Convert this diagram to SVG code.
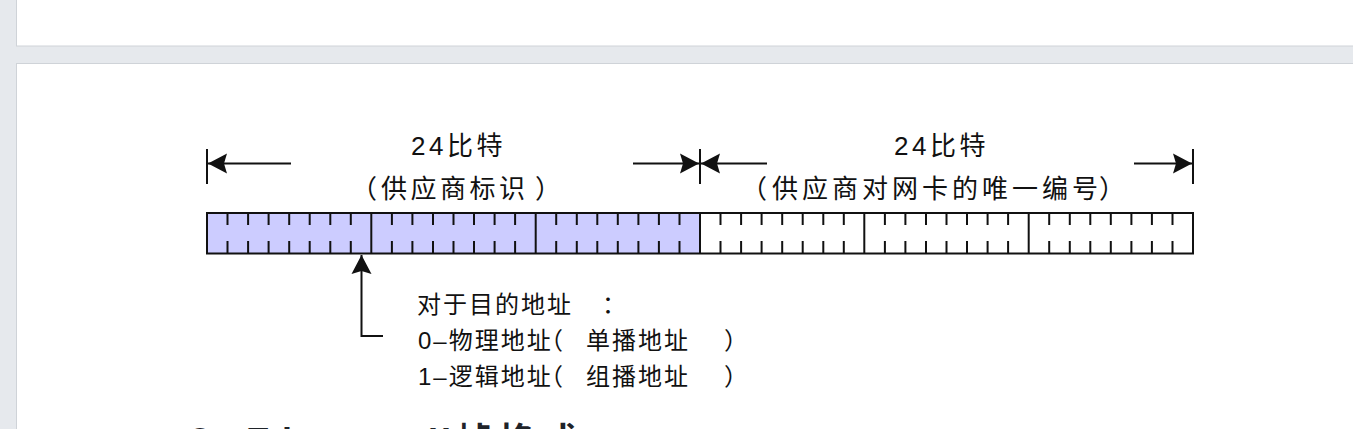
<svg xmlns="http://www.w3.org/2000/svg" width="1353" height="429" viewBox="0 0 1353 429">
<style>
.lbl{font-family:"Liberation Sans","Noto Sans CJK SC",sans-serif;fill:#111;}
.top{font-size:26px;letter-spacing:3.5px;}
.topr{font-size:26px;letter-spacing:4px;}
.note{font-size:24px;letter-spacing:2px;}
.ln{stroke:#111;stroke-width:2;fill:none;}
.head{font-family:"Liberation Sans","Noto Sans CJK SC",sans-serif;font-size:36px;font-weight:bold;fill:#1f2329;}
</style>
<defs>
<marker id="ah" markerUnits="userSpaceOnUse" markerWidth="20" markerHeight="22" viewBox="0 0 20 22" refX="19" refY="11" orient="auto">
<path d="M0,1 L19,11 L0,21 L3,11 z" fill="#111"/>
</marker>
</defs>
<rect x="0" y="0" width="1353" height="429" fill="#e6e9ed"/>
<rect x="16.5" y="-2" width="1340" height="48" fill="#fff" stroke="#cfd3d8"/>
<rect x="16.5" y="63.5" width="1340" height="380" fill="#fff" stroke="#cfd3d8"/>

<g id="connectors">
<line class="ln" x1="207" y1="149" x2="207" y2="184"/>
<line class="ln" x1="700" y1="149" x2="700" y2="184"/>
<line class="ln" x1="1193" y1="149" x2="1193" y2="184"/>
<line class="ln" x1="291" y1="163.5" x2="208" y2="163.5" marker-end="url(#ah)"/>
<line class="ln" x1="633" y1="163.5" x2="699" y2="163.5" marker-end="url(#ah)"/>
<line class="ln" x1="767" y1="163.5" x2="701" y2="163.5" marker-end="url(#ah)"/>
<line class="ln" x1="1134" y1="163.5" x2="1192" y2="163.5" marker-end="url(#ah)"/>
<path class="ln" d="M383,336 H361.5 V255" marker-end="url(#ah)"/>
</g>

<g id="field-oui">
<rect x="207" y="213" width="493" height="40.5" fill="#ccccff"/>
</g>
<g id="field-nic">
<rect x="700" y="213" width="493" height="40.5" fill="#fff"/>
</g>
<g id="bar-lines">
<rect x="207" y="213" width="986" height="40.5" fill="none" stroke="#111" stroke-width="2"/>
<path class="ln" d="M371.3 213V253.5M535.7 213V253.5M700 213V253.5M864.3 213V253.5M1028.7 213V253.5"/>
<path class="ln" d="M227.5 213v12M227.5 241v12.5M248.1 213v12M248.1 241v12.5M268.6 213v12M268.6 241v12.5M289.2 213v12M289.2 241v12.5M309.7 213v12M309.7 241v12.5M330.3 213v12M330.3 241v12.5M350.8 213v12M350.8 241v12.5M391.9 213v12M391.9 241v12.5M412.4 213v12M412.4 241v12.5M433 213v12M433 241v12.5M453.5 213v12M453.5 241v12.5M474 213v12M474 241v12.5M494.6 213v12M494.6 241v12.5M515.1 213v12M515.1 241v12.5M556.2 213v12M556.2 241v12.5M576.8 213v12M576.8 241v12.5M597.3 213v12M597.3 241v12.5M617.8 213v12M617.8 241v12.5M638.4 213v12M638.4 241v12.5M658.9 213v12M658.9 241v12.5M679.5 213v12M679.5 241v12.5M720.5 213v12M720.5 241v12.5M741.1 213v12M741.1 241v12.5M761.6 213v12M761.6 241v12.5M782.2 213v12M782.2 241v12.5M802.7 213v12M802.7 241v12.5M823.3 213v12M823.3 241v12.5M843.8 213v12M843.8 241v12.5M884.9 213v12M884.9 241v12.5M905.4 213v12M905.4 241v12.5M926 213v12M926 241v12.5M946.5 213v12M946.5 241v12.5M967 213v12M967 241v12.5M987.6 213v12M987.6 241v12.5M1008.1 213v12M1008.1 241v12.5M1049.2 213v12M1049.2 241v12.5M1069.8 213v12M1069.8 241v12.5M1090.3 213v12M1090.3 241v12.5M1110.8 213v12M1110.8 241v12.5M1131.4 213v12M1131.4 241v12.5M1151.9 213v12M1151.9 241v12.5M1172.5 213v12M1172.5 241v12.5"/>
</g>

<g id="label-left">
<text class="lbl top" x="411" y="155">24比特</text>
<text class="lbl top" y="198"><tspan x="351">（</tspan><tspan x="381">供应商标识</tspan><tspan x="535">）</tspan></text>
</g>
<g id="label-right">
<text class="lbl top" x="894" y="155">24比特</text>
<text class="lbl topr" y="198"><tspan x="741">（</tspan><tspan x="772">供应商对网卡的唯一编号</tspan><tspan x="1099">）</tspan></text>
</g>
<g id="note">
<text class="lbl note" y="313"><tspan x="417">对于目的地址</tspan><tspan x="602">：</tspan></text>
<text class="lbl note" y="349"><tspan x="418">0–物理地址</tspan><tspan x="539">（</tspan><tspan x="586">单播地址</tspan><tspan x="724">）</tspan></text>
<text class="lbl note" y="385"><tspan x="418">1–逻辑地址</tspan><tspan x="539">（</tspan><tspan x="586">组播地址</tspan><tspan x="724">）</tspan></text>
</g>
<text class="head" y="454"><tspan x="190">2、Ethernet</tspan><tspan x="428" letter-spacing="3">II</tspan><tspan x="455" letter-spacing="7">帧格式</tspan></text>
</svg>
